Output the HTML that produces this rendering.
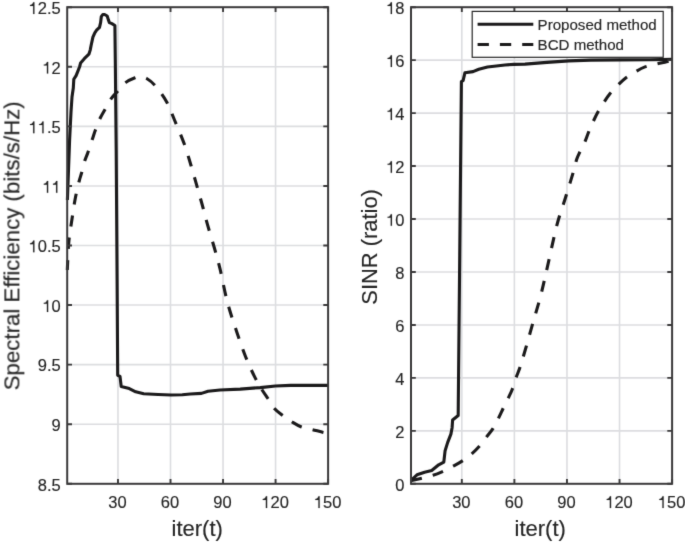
<!DOCTYPE html><html><head><meta charset="utf-8"><style>html,body{margin:0;padding:0;background:#fff;width:685px;height:547px;overflow:hidden}svg{display:block}text{-webkit-font-smoothing:antialiased;font-family:"Liberation Sans",sans-serif;fill:#262626;stroke:#262626;stroke-width:0.15px}</style></head><body>
<svg style="will-change:transform" width="685" height="547" viewBox="0 0 685 547">
<defs><path id="one" fill="#262626" stroke="#262626" stroke-width="18.6" d="M725 0H565V-1001H180V-1125C400 -1150 470 -1215 575 -1450H725Z"/><filter id="bl" filterUnits="userSpaceOnUse" x="0" y="0" width="685" height="547" color-interpolation-filters="sRGB"><feConvolveMatrix order="3" kernelMatrix="0.01134 0.08382 0.01134 0.08382 0.61935 0.08382 0.01134 0.08382 0.01134" divisor="1" edgeMode="duplicate"/></filter></defs>
<g filter="url(#bl)"><rect x="0" y="0" width="685" height="547" fill="#fff"/>
<line x1="117.98" y1="7.2" x2="117.98" y2="483.8" stroke="#dcdde0" stroke-width="1.6"/>
<line x1="170.51" y1="7.2" x2="170.51" y2="483.8" stroke="#dcdde0" stroke-width="1.6"/>
<line x1="223.04" y1="7.2" x2="223.04" y2="483.8" stroke="#dcdde0" stroke-width="1.6"/>
<line x1="275.57" y1="7.2" x2="275.57" y2="483.8" stroke="#dcdde0" stroke-width="1.6"/>
<line x1="67.2" y1="424.23" x2="328.1" y2="424.23" stroke="#dcdde0" stroke-width="1.6"/>
<line x1="67.2" y1="364.65" x2="328.1" y2="364.65" stroke="#dcdde0" stroke-width="1.6"/>
<line x1="67.2" y1="305.07" x2="328.1" y2="305.07" stroke="#dcdde0" stroke-width="1.6"/>
<line x1="67.2" y1="245.50" x2="328.1" y2="245.50" stroke="#dcdde0" stroke-width="1.6"/>
<line x1="67.2" y1="185.93" x2="328.1" y2="185.93" stroke="#dcdde0" stroke-width="1.6"/>
<line x1="67.2" y1="126.35" x2="328.1" y2="126.35" stroke="#dcdde0" stroke-width="1.6"/>
<line x1="67.2" y1="66.77" x2="328.1" y2="66.77" stroke="#dcdde0" stroke-width="1.6"/>
<line x1="461.82" y1="7.2" x2="461.82" y2="483.8" stroke="#dcdde0" stroke-width="1.6"/>
<line x1="514.39" y1="7.2" x2="514.39" y2="483.8" stroke="#dcdde0" stroke-width="1.6"/>
<line x1="566.96" y1="7.2" x2="566.96" y2="483.8" stroke="#dcdde0" stroke-width="1.6"/>
<line x1="619.53" y1="7.2" x2="619.53" y2="483.8" stroke="#dcdde0" stroke-width="1.6"/>
<line x1="411.0" y1="430.84" x2="672.1" y2="430.84" stroke="#dcdde0" stroke-width="1.6"/>
<line x1="411.0" y1="377.89" x2="672.1" y2="377.89" stroke="#dcdde0" stroke-width="1.6"/>
<line x1="411.0" y1="324.93" x2="672.1" y2="324.93" stroke="#dcdde0" stroke-width="1.6"/>
<line x1="411.0" y1="271.98" x2="672.1" y2="271.98" stroke="#dcdde0" stroke-width="1.6"/>
<line x1="411.0" y1="219.02" x2="672.1" y2="219.02" stroke="#dcdde0" stroke-width="1.6"/>
<line x1="411.0" y1="166.07" x2="672.1" y2="166.07" stroke="#dcdde0" stroke-width="1.6"/>
<line x1="411.0" y1="113.11" x2="672.1" y2="113.11" stroke="#dcdde0" stroke-width="1.6"/>
<line x1="411.0" y1="60.16" x2="672.1" y2="60.16" stroke="#dcdde0" stroke-width="1.6"/>
<path d="M67.40,200.00 L68.50,170.00 L69.60,140.00 L71.00,112.00 L72.00,97.00 L73.30,88.00 L73.80,79.30 L76.10,75.60 L77.90,71.10 L79.70,66.50 L80.60,62.90 L84.30,58.70 L88.90,54.20 L90.20,50.10 L91.10,45.50 L92.90,37.20 L94.80,32.80 L96.60,30.20 L99.50,27.30 L100.60,22.60 L101.30,16.70 L102.80,14.50 L104.60,14.50 L107.20,16.00 L108.30,19.60 L109.40,22.60 L111.90,23.70 L114.90,25.50 L115.30,60.00 L116.20,150.00 L117.10,280.00 L117.70,375.30 L120.00,376.40 L121.20,386.50 L129.30,388.60 L135.70,391.80 L143.70,393.70 L158.20,394.50 L171.00,395.00 L182.30,394.80 L190.30,394.00 L201.50,393.40 L208.00,391.30 L220.00,390.00 L240.20,389.10 L260.30,387.60 L275.40,386.00 L290.50,385.40 L328.10,385.40" stroke="#1b1a1b" stroke-width="3.1" fill="none" stroke-linejoin="round"/>
<path id="ld" d="M67.30,270.00 C67.55,265.33 68.07,250.17 68.80,242.00 C69.53,233.83 70.78,227.33 71.70,221.00 C72.62,214.67 73.60,208.28 74.30,204.00 C75.00,199.72 75.08,199.13 75.90,195.30 C76.72,191.47 78.22,184.85 79.20,181.00 C80.18,177.15 80.90,175.48 81.80,172.20 C82.70,168.92 83.58,164.58 84.60,161.30 C85.62,158.02 86.62,156.17 87.90,152.50 C89.18,148.83 91.02,143.13 92.30,139.30 C93.58,135.47 94.32,132.97 95.60,129.50 C96.88,126.03 98.35,121.98 100.00,118.50 C101.65,115.02 103.67,111.88 105.50,108.60 C107.33,105.32 108.97,101.72 111.00,98.80 C113.03,95.88 115.28,93.80 117.70,91.10 C120.12,88.40 122.62,84.82 125.50,82.60 C128.38,80.38 132.58,78.73 135.00,77.80 C137.42,76.87 138.05,76.88 140.00,77.00 C141.95,77.12 144.12,77.00 146.70,78.50 C149.28,80.00 152.22,82.18 155.50,86.00 C158.78,89.82 163.20,95.65 166.40,101.40 C169.60,107.15 171.73,113.43 174.70,120.50 C177.67,127.57 181.47,136.25 184.20,143.80 C186.93,151.35 189.03,158.95 191.10,165.80 C193.17,172.65 194.78,178.53 196.60,184.90 C198.42,191.27 200.18,197.37 202.00,204.00 C203.82,210.63 205.43,217.37 207.50,224.70 C209.57,232.03 212.30,240.58 214.40,248.00 C216.50,255.42 217.93,260.17 220.10,269.20 C222.27,278.23 224.65,291.83 227.40,302.20 C230.15,312.57 233.55,322.27 236.60,331.40 C239.65,340.53 242.67,349.38 245.70,357.00 C248.73,364.62 252.08,371.63 254.80,377.10 C257.52,382.57 259.82,386.23 262.00,389.80 C264.18,393.37 265.93,395.50 267.90,398.50 C269.87,401.50 271.43,405.05 273.80,407.80 C276.17,410.55 279.03,412.63 282.10,415.00 C285.17,417.37 288.97,420.00 292.20,422.00 C295.43,424.00 298.13,425.73 301.50,427.00 C304.87,428.27 308.77,428.70 312.40,429.60 C316.03,430.50 320.68,431.83 323.30,432.40 C325.92,432.97 327.30,432.90 328.10,433.00" stroke="#1b1a1b" stroke-width="3.1" fill="none" stroke-dasharray="11.2 11.16" stroke-dashoffset="1.2"/>
<path d="M411.00,480.30 L417.00,474.80 L424.60,472.20 L431.70,470.50 L438.70,464.80 L443.80,462.20 L445.10,450.70 L447.70,442.40 L450.90,434.10 L452.10,427.70 L452.60,420.00 L458.20,415.50 L458.30,404.00 L461.40,81.50 L463.10,80.60 L464.90,72.80 L473.00,71.60 L478.80,69.20 L487.50,67.00 L496.30,66.00 L505.00,65.00 L513.80,64.40 L525.00,64.10 L546.90,62.40 L568.80,60.90 L590.70,60.10 L620.00,59.90 L650.00,59.80 L672.10,59.40" stroke="#1b1a1b" stroke-width="3.1" fill="none" stroke-linejoin="round"/>
<path id="rd" d="M411.00,480.70 C412.63,480.35 417.13,479.50 420.80,478.60 C424.47,477.70 429.48,476.43 433.00,475.30 C436.52,474.17 438.60,473.30 441.90,471.80 C445.20,470.30 449.38,468.12 452.80,466.30 C456.22,464.48 459.20,463.02 462.40,460.90 C465.60,458.78 469.22,456.00 472.00,453.60 C474.78,451.20 476.75,449.18 479.10,446.50 C481.45,443.82 483.77,440.52 486.10,437.50 C488.43,434.48 491.08,431.52 493.10,428.40 C495.12,425.28 496.52,422.15 498.20,418.80 C499.88,415.45 501.53,411.73 503.20,408.30 C504.87,404.87 506.68,401.38 508.20,398.20 C509.72,395.02 510.95,392.72 512.30,389.20 C513.65,385.68 515.03,380.70 516.30,377.10 C517.57,373.50 518.40,372.15 519.90,367.60 C521.40,363.05 523.13,357.25 525.30,349.80 C527.47,342.35 530.35,331.87 532.90,322.90 C535.45,313.93 538.20,305.27 540.60,296.00 C543.00,286.73 544.58,279.12 547.30,267.30 C550.02,255.48 553.97,236.40 556.90,225.10 C559.83,213.80 562.77,206.35 564.90,199.50 C567.03,192.65 568.30,188.57 569.70,184.00 C571.10,179.43 572.12,176.25 573.30,172.10 C574.48,167.95 575.62,162.65 576.80,159.10 C577.98,155.55 579.02,153.77 580.40,150.80 C581.78,147.83 583.72,144.47 585.10,141.30 C586.48,138.13 587.32,135.17 588.70,131.80 C590.08,128.43 591.82,124.47 593.40,121.10 C594.98,117.73 596.42,114.77 598.20,111.60 C599.98,108.43 602.15,105.07 604.10,102.10 C606.05,99.13 607.57,96.65 609.90,93.80 C612.23,90.95 615.47,87.63 618.10,85.00 C620.73,82.37 622.78,80.23 625.70,78.00 C628.62,75.77 632.38,73.45 635.60,71.60 C638.82,69.75 641.50,68.17 645.00,66.90 C648.50,65.63 653.00,64.87 656.60,64.00 C660.20,63.13 664.02,62.33 666.60,61.70 C669.18,61.07 671.18,60.45 672.10,60.20" stroke="#1b1a1b" stroke-width="3.1" fill="none" stroke-dasharray="11.2 11.16" stroke-dashoffset="0"/>
<path d="M117.98,483.8 v-4.8 M117.98,7.2 v4.8 M170.51,483.8 v-4.8 M170.51,7.2 v4.8 M223.04,483.8 v-4.8 M223.04,7.2 v4.8 M275.57,483.8 v-4.8 M275.57,7.2 v4.8 M328.10,483.8 v-4.8 M328.10,7.2 v4.8 M67.2,483.80 h4.8 M328.1,483.80 h-4.8 M67.2,424.23 h4.8 M328.1,424.23 h-4.8 M67.2,364.65 h4.8 M328.1,364.65 h-4.8 M67.2,305.07 h4.8 M328.1,305.07 h-4.8 M67.2,245.50 h4.8 M328.1,245.50 h-4.8 M67.2,185.93 h4.8 M328.1,185.93 h-4.8 M67.2,126.35 h4.8 M328.1,126.35 h-4.8 M67.2,66.77 h4.8 M328.1,66.77 h-4.8 M67.2,7.20 h4.8 M328.1,7.20 h-4.8 " stroke="#3a393a" stroke-width="1.9" fill="none"/>
<rect x="67.2" y="7.2" width="260.90" height="476.60" fill="none" stroke="#3a393a" stroke-width="2.0"/>
<path d="M461.82,483.8 v-4.8 M461.82,7.2 v4.8 M514.39,483.8 v-4.8 M514.39,7.2 v4.8 M566.96,483.8 v-4.8 M566.96,7.2 v4.8 M619.53,483.8 v-4.8 M619.53,7.2 v4.8 M672.10,483.8 v-4.8 M672.10,7.2 v4.8 M411.0,483.80 h4.8 M672.1,483.80 h-4.8 M411.0,430.84 h4.8 M672.1,430.84 h-4.8 M411.0,377.89 h4.8 M672.1,377.89 h-4.8 M411.0,324.93 h4.8 M672.1,324.93 h-4.8 M411.0,271.98 h4.8 M672.1,271.98 h-4.8 M411.0,219.02 h4.8 M672.1,219.02 h-4.8 M411.0,166.07 h4.8 M672.1,166.07 h-4.8 M411.0,113.11 h4.8 M672.1,113.11 h-4.8 M411.0,60.16 h4.8 M672.1,60.16 h-4.8 M411.0,7.20 h4.8 M672.1,7.20 h-4.8 " stroke="#3a393a" stroke-width="1.9" fill="none"/>
<rect x="411.0" y="7.2" width="261.10" height="476.60" fill="none" stroke="#3a393a" stroke-width="2.0"/>
<text x="37.76" y="490.60" font-size="16.5">8.5</text>
<text x="51.52" y="431.03" font-size="16.5">9</text>
<text x="37.76" y="371.45" font-size="16.5">9.5</text>
<text x="42.35" y="311.88" font-size="16.5"> 0</text><use href="#one" transform="translate(42.35,311.88) scale(0.008057)"/>
<text x="28.59" y="252.30" font-size="16.5"> 0.5</text><use href="#one" transform="translate(28.59,252.30) scale(0.008057)"/>
<text x="42.35" y="192.73" font-size="16.5">  </text><use href="#one" transform="translate(42.35,192.73) scale(0.008057)"/><use href="#one" transform="translate(51.52,192.73) scale(0.008057)"/>
<text x="28.59" y="133.15" font-size="16.5">  .5</text><use href="#one" transform="translate(28.59,133.15) scale(0.008057)"/><use href="#one" transform="translate(37.76,133.15) scale(0.008057)"/>
<text x="42.35" y="73.57" font-size="16.5"> 2</text><use href="#one" transform="translate(42.35,73.57) scale(0.008057)"/>
<text x="28.59" y="14.00" font-size="16.5"> 2.5</text><use href="#one" transform="translate(28.59,14.00) scale(0.008057)"/>
<text x="395.32" y="490.60" font-size="16.5">0</text>
<text x="395.32" y="437.64" font-size="16.5">2</text>
<text x="395.32" y="384.69" font-size="16.5">4</text>
<text x="395.32" y="331.73" font-size="16.5">6</text>
<text x="395.32" y="278.78" font-size="16.5">8</text>
<text x="386.15" y="225.82" font-size="16.5"> 0</text><use href="#one" transform="translate(386.15,225.82) scale(0.008057)"/>
<text x="386.15" y="172.87" font-size="16.5"> 2</text><use href="#one" transform="translate(386.15,172.87) scale(0.008057)"/>
<text x="386.15" y="119.91" font-size="16.5"> 4</text><use href="#one" transform="translate(386.15,119.91) scale(0.008057)"/>
<text x="386.15" y="66.96" font-size="16.5"> 6</text><use href="#one" transform="translate(386.15,66.96) scale(0.008057)"/>
<text x="386.15" y="14.00" font-size="16.5"> 8</text><use href="#one" transform="translate(386.15,14.00) scale(0.008057)"/>
<text x="108.30" y="508.00" font-size="16.5">30</text>
<text x="160.83" y="508.00" font-size="16.5">60</text>
<text x="213.36" y="508.00" font-size="16.5">90</text>
<text x="261.31" y="508.00" font-size="16.5"> 20</text><use href="#one" transform="translate(261.31,508.00) scale(0.008057)"/>
<text x="313.84" y="508.00" font-size="16.5"> 50</text><use href="#one" transform="translate(313.84,508.00) scale(0.008057)"/>
<text x="452.14" y="508.00" font-size="16.5">30</text>
<text x="504.71" y="508.00" font-size="16.5">60</text>
<text x="557.28" y="508.00" font-size="16.5">90</text>
<text x="605.26" y="508.00" font-size="16.5"> 20</text><use href="#one" transform="translate(605.26,508.00) scale(0.008057)"/>
<text x="657.84" y="508.00" font-size="16.5"> 50</text><use href="#one" transform="translate(657.84,508.00) scale(0.008057)"/>
<text x="197.2" y="535.6" font-size="22" text-anchor="middle">iter(t)</text>
<text x="540.2" y="535.6" font-size="22" text-anchor="middle">iter(t)</text>
<text transform="translate(19.4,245.8) rotate(-90)" font-size="22.5" text-anchor="middle" textLength="289.0" lengthAdjust="spacingAndGlyphs">Spectral Efficiency (bits/s/Hz)</text>
<text transform="translate(377.2,246.9) rotate(-90)" font-size="22.5" text-anchor="middle" textLength="115.5" lengthAdjust="spacingAndGlyphs">SINR (ratio)</text>
<rect x="472.2" y="11.4" width="191" height="45.9" fill="#fff" stroke="#262626" stroke-width="1.2"/>
<line x1="477.6" y1="24.25" x2="533.3" y2="24.25" stroke="#1b1a1b" stroke-width="3.1"/>
<line x1="477.6" y1="44.5" x2="533.3" y2="44.5" stroke="#1b1a1b" stroke-width="3.1" stroke-dasharray="11.3 11"/>
<text x="537.6" y="29.8" font-size="15.1">Proposed method</text>
<text x="537.6" y="50.1" font-size="15.1">BCD method</text>
</g></svg></body></html>
